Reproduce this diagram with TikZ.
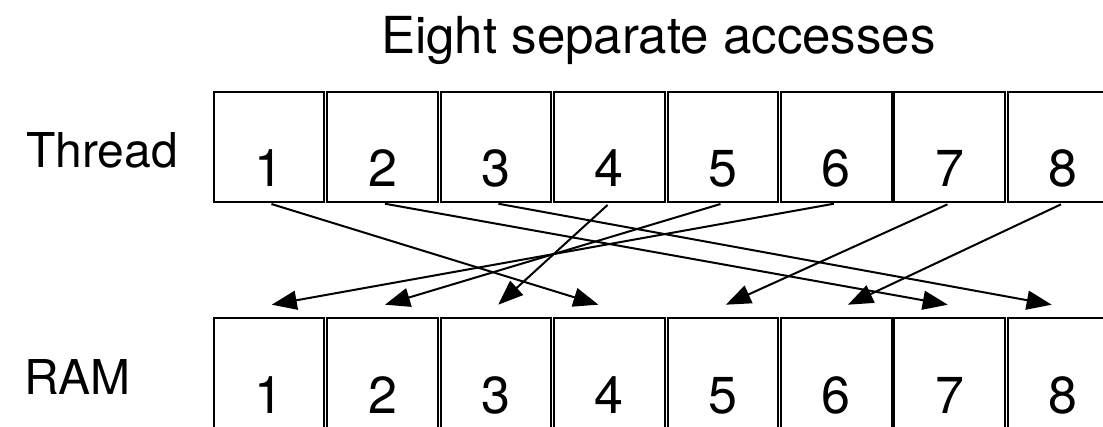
\documentclass[tikz,border=0pt]{standalone}
\usepackage{fontspec}
\setmainfont{TeX Gyre Heros}
\usetikzlibrary{arrows.meta}
\tikzset{
  cell/.style={draw, line width=2pt, minimum width=110.7pt, inner xsep=0pt, inner ysep=0pt,
    text height=95.3pt, text depth=15.3pt, font=\fontsize{52}{60}\selectfont},
  rowlabel/.style={anchor=base west, inner sep=0pt, font=\fontsize{48}{56}\selectfont},
  heading/.style={anchor=base west, inner sep=0pt, font=\fontsize{51}{60}\selectfont},
  access/.style={-{Triangle[length=25pt,width=19pt]}, line width=2pt, shorten <=2.5pt}
}
\begin{document}
\begin{tikzpicture}[x=1pt,y=-1pt]
      \useasboundingbox (0,0) rectangle (1103,427);
      \node[heading] (title) at (381,54) {Eight separate accesses};
      \node[rowlabel] (thread) at (26,168) {Thread};
      \node[rowlabel] (ram) at (24,395) {RAM};
      \draw
        (269.05,147) node[cell] (t1){1}
        (382.50,147) node[cell] (t2){2}
        (495.95,147) node[cell] (t3){3}
        (609.40,147) node[cell] (t4){4}
        (722.85,147) node[cell] (t5){5}
        (836.30,147) node[cell] (t6){6}
        (949.75,147) node[cell] (t7){7}
        (1063.20,147) node[cell] (t8){8};
      \draw
        (269.05,373.6) node[cell] (r1){1}
        (382.50,373.6) node[cell] (r2){2}
        (495.95,373.6) node[cell] (r3){3}
        (609.40,373.6) node[cell] (r4){4}
        (722.85,373.6) node[cell] (r5){5}
        (836.30,373.6) node[cell] (r6){6}
        (949.75,373.6) node[cell] (r7){7}
        (1063.20,373.6) node[cell] (r8){8};
      \begin{scope}[access]
        \draw (t1.south) to ([xshift=-11pt,yshift=12.6pt]r4.north);
        \draw (t2.south) to ([xshift=-2pt,yshift=12.6pt]r7.north);
        \draw (t3.south) to ([xshift=-11.5pt,yshift=12.6pt]r8.north);
        \draw (t4.south) to ([xshift=2.3pt,yshift=12.6pt]r3.north);
        \draw (t5.south) to ([xshift=2.5pt,yshift=12.6pt]r2.north);
        \draw (t6.south) to ([xshift=2.7pt,yshift=12.6pt]r1.north);
        \draw (t7.south) to ([xshift=3pt,yshift=12.6pt]r5.north);
        \draw (t8.south) to ([xshift=11.7pt,yshift=12.6pt]r6.north);
      \end{scope}
    \end{tikzpicture}
\end{document}
